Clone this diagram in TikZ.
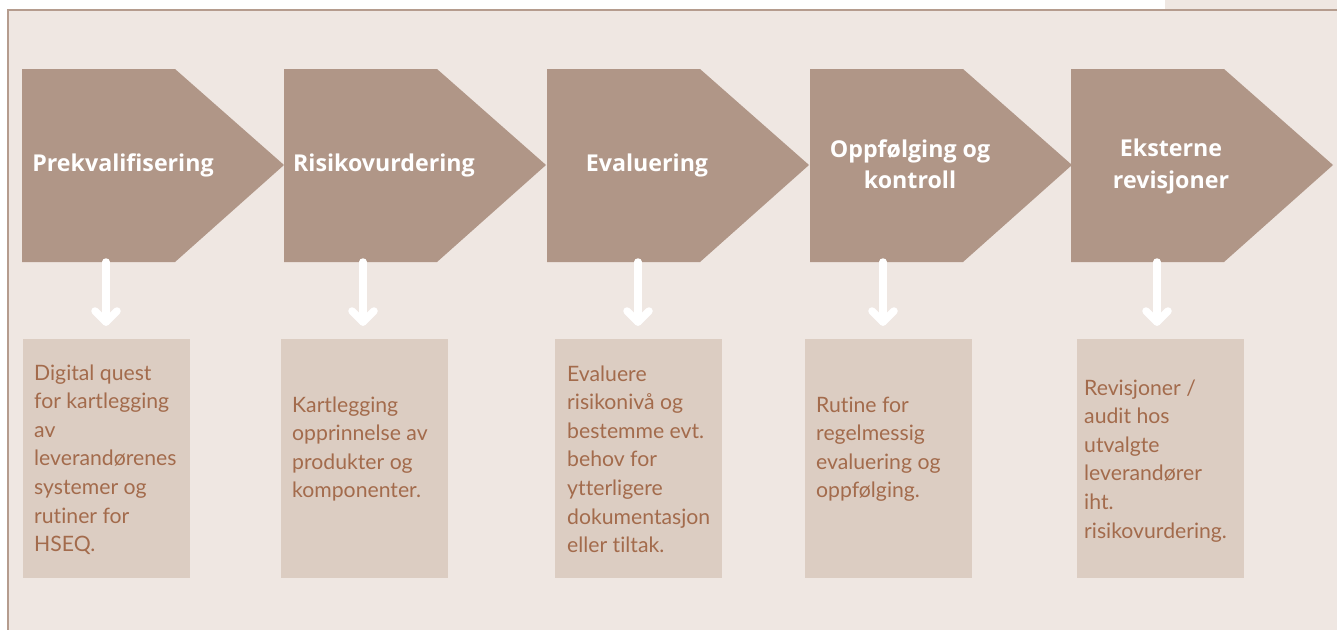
\documentclass[tikz,border=0pt]{standalone}
\usepackage{fontspec}
\setmainfont{Lato}[Ligatures=NoCommon]
\newfontfamily\headfont{Open Sans}
\usetikzlibrary{calc}
\definecolor{bgc}{RGB}{239,231,226}
\definecolor{chevc}{RGB}{176,150,135}
\definecolor{boxc}{RGB}{220,205,194}
\definecolor{txtc}{RGB}{163,107,76}
\definecolor{borderc}{RGB}{181,156,142}
\tikzset{
  chevron/.style={fill=chevc},
  title/.style={text=white, font=\headfont\bfseries\fontsize{23.2}{31.5}\selectfont, align=center, inner sep=0pt, anchor=base},
  descbox/.style={fill=boxc, minimum width=167pt, minimum height=239pt, anchor=north west, inner sep=0pt},
  desc/.style={text=txtc, font=\fontsize{21.2}{28.6}\selectfont, align=left, inner sep=0pt, anchor=base west},
  downarrow/.style={draw=white, line width=7.5pt, line cap=round, line join=round}
}
\begin{document}
\begin{tikzpicture}[x=1pt,y=-1pt]
\useasboundingbox (0,0) rectangle (1337,630);
\fill[white] (0,0) rectangle (1337,630);
\fill[bgc] (8,10) rectangle (1337,630);
\fill[bgc] (1165,0) rectangle (1337,10);
\draw[borderc, line width=2.5pt] (1337,10) -- (8,10) -- (8,630);

% chevrons
\foreach \i/\x in {1/22,2/284,3/547,4/810,5/1071}{
  \fill[chevron] (\x,69) -- ++(153,0) -- ++(109,96) -- ++(-109,97) -- ++(-153,0) -- cycle;
}
% (anchor base = baseline of the last line)
\node[title] (h1) at (123,171) {Prekvalifisering};
\node[title] (h2) at (384,171) {Risikovurdering};
\node[title] (h3) at (647,171) {Evaluering};
\node[title] (h4) at (910,188.5) {Oppfølging og\\kontroll};
\node[title] (h5) at (1171,188) {Eksterne\\revisjoner};

% description boxes
\node[descbox] (b1) at (23,339) {};
\node[descbox] (b2) at (281,339) {};
\node[descbox] (b3) at (555,339) {};
\node[descbox] (b4) at (805,339) {};
\node[descbox] (b5) at (1077,339) {};

\node[desc] (t1) at (34,551.6) {Digital quest\\for kartlegging\\av\\leverandørenes\\systemer og\\rutiner for\\HSEQ.};
\node[desc] (t2) at (292,497.8) {Kartlegging\\opprinnelse av\\produkter og\\komponenter.};
\node[desc] (t3) at (567,552.6) {Evaluere\\risikonivå og\\bestemme evt.\\behov for\\ytterligere\\dokumentasjon\\eller tiltak.};
\node[desc] (t4) at (816,497.8) {Rutine for\\regelmessig\\evaluering og\\oppfølging.};
\node[desc] (t5) at (1084,538) {Revisjoner /\\audit hos\\utvalgte\\leverandører\\iht.\\risikovurdering.};

% arrows
\foreach \i/\x in {1/106,2/363,3/638,4/883,5/1157}{
  \coordinate (s\i) at (\x,262);
  \coordinate (e\i) at (\x,322);
  \draw[downarrow] (s\i) -- (e\i);
  \draw[downarrow] ($(e\i)+(-11,-11)$) -- (e\i) -- ($(e\i)+(11,-11)$);
}
\end{tikzpicture}
\end{document}
